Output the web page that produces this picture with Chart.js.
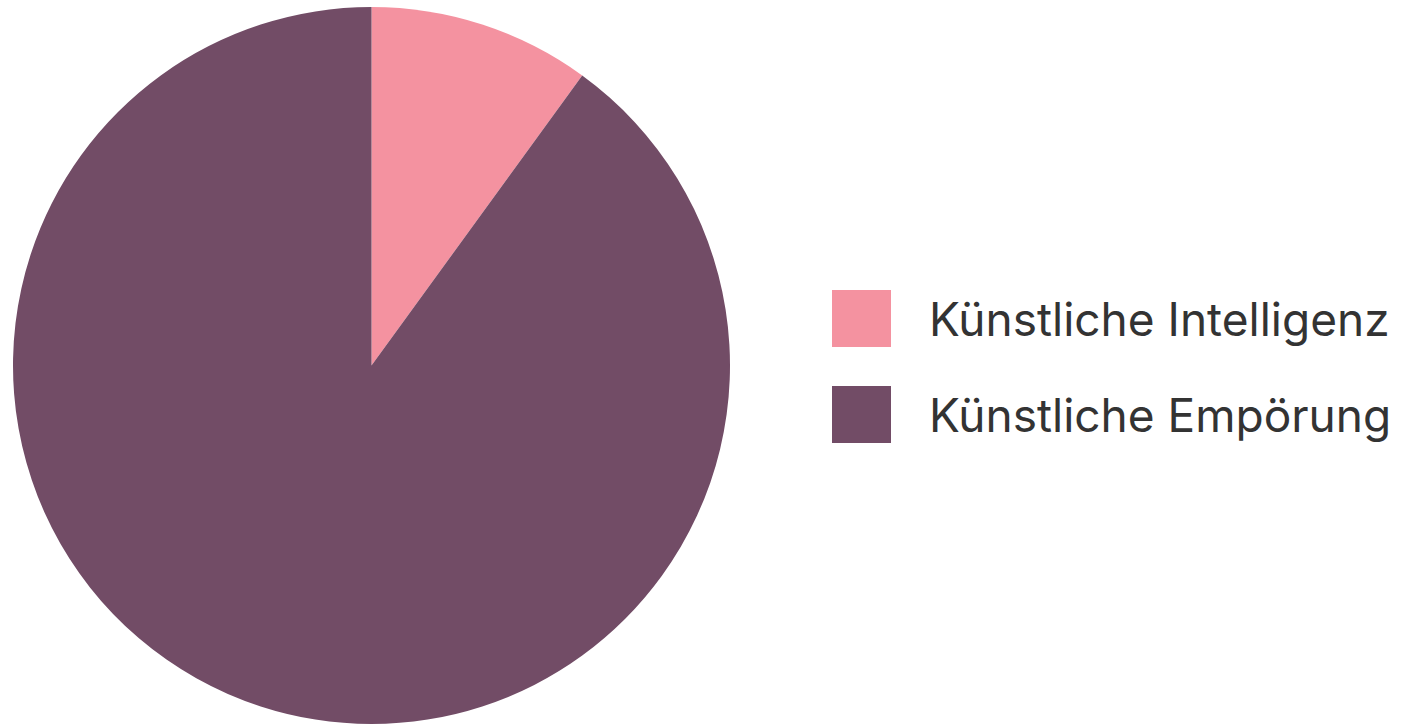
<!DOCTYPE html>
<html lang="de">
<head>
<meta charset="utf-8">
<title>Künstliche Intelligenz</title>
<script src="https://cdn.jsdelivr.net/npm/chart.js@4"></script>
<style>
  html, body { margin: 0; padding: 0; background: #fff; }
  body { width: 1402px; height: 728px; position: relative; overflow: hidden; }
  #pie-wrap { position: absolute; left: 0; top: 0; width: 743px; height: 728px; }
  #legend { position: absolute; left: 832px; top: 290px; margin: 0; padding: 0; list-style: none;
            font-family: "Inter", sans-serif; font-size: 46px; color: #333; }
  #legend li { display: flex; align-items: center; height: 57px; margin-bottom: 39px; white-space: nowrap; }
  #legend .box { width: 59px; height: 57px; margin-right: 38px; flex: none; }
</style>
</head>
<body>
<div id="pie-wrap"><canvas id="pie-chart"></canvas></div>
<ul id="legend"></ul>
<script>
const labels = ['Künstliche Intelligenz', 'Künstliche Empörung'];
const values = [10, 90];
const colors = ['#f492a0', '#724c66'];

const ctx = document.getElementById('pie-chart');
const pieChart = new Chart(ctx, {
  type: 'pie',
  data: {
    labels: labels,
    datasets: [{
      data: values,
      backgroundColor: colors,
      borderWidth: 0,
    }],
  },
  options: {
    responsive: true,
    maintainAspectRatio: false,
    animation: false,
    layout: {
      padding: { left: 13, right: 13, top: 7, bottom: 4 },
    },
    plugins: {
      legend: { display: false },
      tooltip: { enabled: false },
    },
  },
});

// legend as html, built from the chart's own legend items
const legendEl = document.getElementById('legend');
const items = pieChart.options.plugins.legend.labels.generateLabels(pieChart);
items.forEach(function(item){
  const li = document.createElement('li');
  const box = document.createElement('span');
  box.className = 'box';
  box.style.background = item.fillStyle;
  const txt = document.createElement('span');
  txt.textContent = item.text;
  li.appendChild(box);
  li.appendChild(txt);
  legendEl.appendChild(li);
});
</script>
</body>
</html>
